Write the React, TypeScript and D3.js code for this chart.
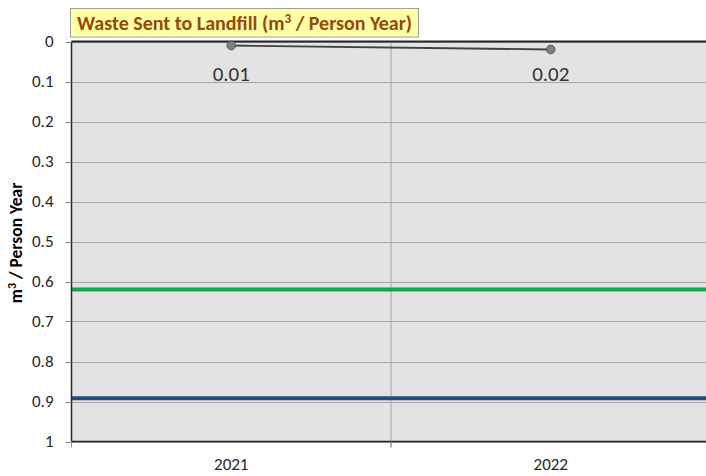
import React from "react";
import * as d3 from "d3";

const categories = ["2021", "2022"];
const actualValues = [0.01, 0.02];
const greenTarget = 0.62;
const blueTarget = 0.892;
const yTicks = [0, 0.1, 0.2, 0.3, 0.4, 0.5, 0.6, 0.7, 0.8, 0.9, 1];
const titleText = "Waste Sent to Landfill (m";
const yTitle = "m";

const W = 706;
const H = 476;
const left = 71.5;
const top = 41.5;
const bottom = 441.5;
const bandW = 319.5;
const right = left + bandW * categories.length;

export default function App() {
  const x = d3.scaleBand<string>().domain(categories).range([left, right]).padding(0);
  const y = d3.scaleLinear().domain([0, 1]).range([top, bottom]);
  const font = "Carlito, 'Open Sans', 'Noto Sans', sans-serif";
  const line = d3
    .line<number>()
    .x((_, i) => (x(categories[i]) as number) + x.bandwidth() / 2)
    .y((d) => y(d));

  return (
    <svg
      width={W}
      height={H}
      style={{ position: "absolute", left: 0, top: 0, display: "block" }}
      fontFamily={font}
    >
      <rect x={0} y={0} width={W} height={H} fill="#ffffff" />
      <rect x={left} y={top} width={right - left} height={bottom - top} fill="#e3e3e3" />
      {yTicks.map((t) => (
        <line key={"g" + t} x1={left} x2={right} y1={Math.round(y(t)) + 0.5} y2={Math.round(y(t)) + 0.5} stroke="#a6a6a6" strokeWidth={1} />
      ))}
      {categories.slice(1).map((c) => (
        <line key={"v" + c} x1={x(c) as number} x2={x(c) as number} y1={top} y2={bottom + 6} stroke="#a6a6a6" strokeWidth={1} />
      ))}
      <line x1={left} x2={right} y1={y(greenTarget)} y2={y(greenTarget)} stroke="#13a84b" strokeWidth={4} />
      <line x1={left} x2={right} y1={y(blueTarget)} y2={y(blueTarget)} stroke="#1f4e79" strokeWidth={4} />
      {/* axes */}
      <line x1={left} x2={right} y1={top} y2={top} stroke="#262626" strokeWidth={2} />
      <line x1={left} x2={right} y1={bottom} y2={bottom} stroke="#262626" strokeWidth={1.5} />
      <line x1={left} x2={left} y1={top} y2={bottom} stroke="#262626" strokeWidth={1.5} />
      {yTicks.map((t) => (
        <g key={"t" + t}>
          <line x1={left - 6} x2={left} y1={Math.round(y(t)) + 0.5} y2={Math.round(y(t)) + 0.5} stroke="#8c8c8c" />
          <text x={left - 18} y={y(t)} dy="0.35em" textAnchor="end" fontSize={17} fill="#262626">
            {d3.format("~g")(t)}
          </text>
        </g>
      ))}
      {[left, ...categories.slice(1).map((c) => x(c) as number)].map((xv, i) => (
        <line key={"xt" + i} x1={xv} x2={xv} y1={bottom} y2={bottom + 6} stroke="#8c8c8c" />
      ))}
      {categories.map((c) => (
        <text key={c} x={(x(c) as number) + x.bandwidth() / 2} y={469.5} textAnchor="middle" fontSize={17} fill="#262626">
          {c}
        </text>
      ))}
      {/* series */}
      <path d={line(actualValues) || ""} fill="none" stroke="#404040" strokeWidth={1.8} />
      {actualValues.map((v, i) => {
        const cx = (x(categories[i]) as number) + x.bandwidth() / 2;
        return (
          <g key={"p" + i}>
            <circle cx={cx} cy={y(v)} r={4.3} fill="#808080" stroke="#595959" strokeWidth={1} />
            <text x={cx} y={y(0) + 39.5} textAnchor="middle" fontSize={21} fill="#333333">
              {v.toFixed(2)}
            </text>
          </g>
        );
      })}
      {/* title */}
      <rect x={70.5} y={8.5} width={348} height={28.5} fill="#ffffa6" stroke="#a0a0a0" strokeWidth={1} />
      <text x={244.5} y={30} textAnchor="middle" fontSize={20} fontWeight="bold" fill="#984807">
        {titleText}
        <tspan dy={-7} fontSize={13}>3</tspan>
        <tspan dy={7}> / Person Year)</tspan>
      </text>
      {/* y title */}
      <text transform="translate(22,243) rotate(-90)" textAnchor="middle" fontSize={17.5} fontWeight="bold" fill="#000000">
        {yTitle}
        <tspan dy={-6} fontSize={12}>3</tspan>
        <tspan dy={6}> / Person Year</tspan>
      </text>
    </svg>
  );
}
